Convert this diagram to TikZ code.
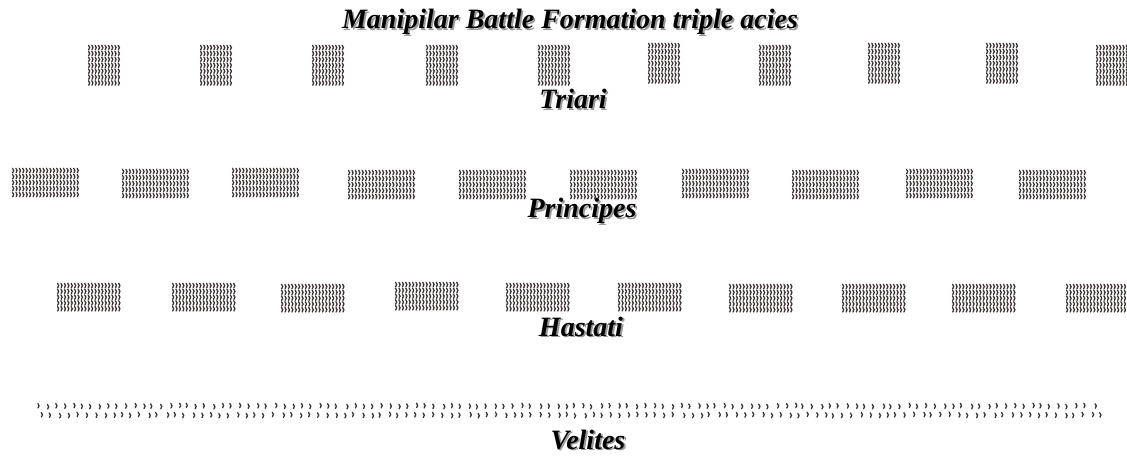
\documentclass[tikz,border=0pt]{standalone}
\usepackage{fontspec}
\setmainfont{Liberation Serif}
\definecolor{soldiercol}{RGB}{60,52,52}
\tikzset{
  soldier/.style={draw=soldiercol, line width=1.3pt, line cap=round},
  lbl/.style={font=\fontsize{28}{30}\selectfont\bfseries\itshape, anchor=base, inner sep=0pt},
  lblshadow/.style={lbl, text=black!40},
}
\newcommand\troop[6]{%
  \foreach \i in {1,...,#3}{\foreach \j in {1,...,#4}{%
    \draw[soldier,shift={({#1+(\i-1)*#5},{#2+(\j-1)*#6})}] (-0.5,-2.2) .. controls (1.1,-1.3) and (1,1.4) .. (-0.3,2.3);
  }}}
\newcommand\shlabel[4]{%
  \node[lblshadow] (#1s) at (#2+1.8,#3+1.8) {#4};
  \node[lbl] (#1) at (#2,#3) {#4};}
\begin{document}
\begin{tikzpicture}[x=1pt,y=-1pt]
\useasboundingbox[fill=white] (0,0) rectangle (1127,457);
% labels
\shlabel{title}{570}{29}{Manipilar Battle Formation triple acies}
\shlabel{triari}{573}{109}{Triari}
\shlabel{principes}{582}{218}{Principes}
\shlabel{hastati}{581}{336}{Hastati}
\shlabel{velites}{588}{449}{Velites}
% triarii
\foreach \xs/\ys in {88/45,200/45,312/45,426/45,538/45,648/43,759/45,868/43,986/43,1096/45}{
  \troop{\xs+1}{\ys+2.5}{10}{7}{3.3}{5.9}
}
% principes
\foreach \xs/\ys in {12/168,122/169,232/168,348/170,459/170,570/170,682/169,792/170,906/169,1019/170}{
  \troop{\xs+1}{\ys+2.5}{20}{5}{3.4}{6}
}
% hastati
\foreach \xs/\ys in {57/283,172/283,281/284,395/282,506/283,618/283,729/284,842/284,952/284,1066/284}{
  \troop{\xs+1}{\ys+2.5}{19}{5}{3.4}{5.8}
}
% velites
\pgfmathsetseed{7}
\foreach \k in {0,...,120}{
  \draw[soldier,shift={({38+\k*8.8+1.6*rand},{406+0.7*rand})}] (-0.5,-2.2) .. controls (1.1,-1.3) and (1,1.4) .. (-0.3,2.3);
}
\foreach \k in {0,...,119}{
  \draw[soldier,shift={({42+\k*8.9+1.6*rand},{415+0.7*rand})}] (-0.5,-2.2) .. controls (1.1,-1.3) and (1,1.4) .. (-0.3,2.3);
}
\end{tikzpicture}
\end{document}
